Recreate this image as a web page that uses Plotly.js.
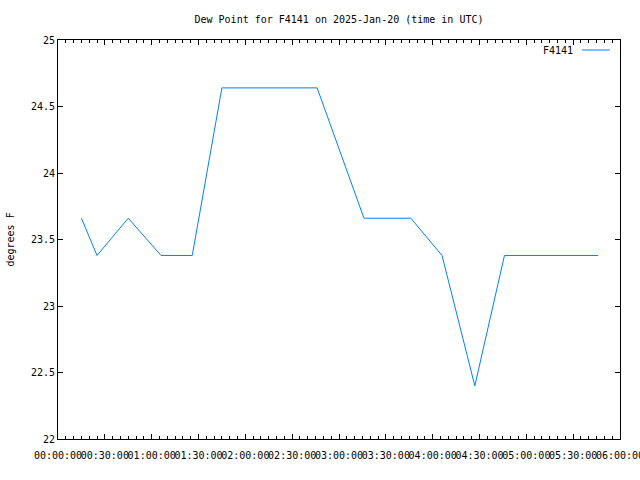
<!DOCTYPE html>
<html>
<head>
<meta charset="utf-8">
<script src="https://cdn.plot.ly/plotly-3.0.1.min.js"></script>
<style>html,body{margin:0;padding:0;background:#fff;}#chart{width:640px;height:480px;}</style>
</head>
<body>
<div id="chart"></div>
<script>
const stationName = "F4141";
const times = [
  "2025-01-20 00:15:00", "2025-01-20 00:25:00", "2025-01-20 00:45:00",
  "2025-01-20 01:06:00", "2025-01-20 01:26:00", "2025-01-20 01:45:00",
  "2025-01-20 02:46:00", "2025-01-20 03:16:00", "2025-01-20 03:46:00",
  "2025-01-20 04:06:00", "2025-01-20 04:27:00", "2025-01-20 04:46:00",
  "2025-01-20 05:46:00"
];
const dewPointF = [23.66, 23.38, 23.66, 23.38, 23.38, 24.64, 24.64, 23.66, 23.66, 23.38, 22.40, 23.38, 23.38];
const yTickVals = [22, 22.5, 23, 23.5, 24, 24.5, 25];
const yTickText = ["22", "22.5", "23", "23.5", "24", "24.5", "25"];

const mono = "DejaVu Sans Mono, monospace";
const L = 58, R = 620, T = 40, B = 439;

const trace = {
  x: times, y: dewPointF, type: "scatter", mode: "lines", name: stationName,
  line: {color: "#0080ff", width: 1}, showlegend: false
};

const layout = {
  width: 640, height: 480,
  margin: {l: L, r: 640 - R, t: T, b: 480 - B, pad: 0},
  paper_bgcolor: "#fff", plot_bgcolor: "#fff",
  font: {family: mono, size: 10, color: "#000"},
  title: {text: "Dew Point for F4141 on 2025-Jan-20 (time in UTC)", font: {family: mono, size: 10, color: "#000"},
          x: 0.5, xref: "paper", xanchor: "center", y: 1 - 19/480, yref: "container", yanchor: "middle"},
  xaxis: {
    type: "date", range: ["2025-01-20 00:00:00", "2025-01-20 06:00:00"],
    tickmode: "linear", tick0: "2025-01-20 00:00:00", dtick: 30*60*1000,
    tickformat: "%H:%M:%S", tickangle: 0, ticklabeloverflow: "allow",
    ticks: "inside", ticklen: 5, tickcolor: "#000", tickwidth: 1,
    minor: {dtick: 5*60*1000, ticks: "inside", ticklen: 3, tickcolor: "#000", tickwidth: 1, showgrid: false},
    showline: true, linecolor: "#000", linewidth: 1, mirror: "allticks",
    showgrid: false, zeroline: false, ticklabelstandoff: 7,
    tickfont: {family: mono, size: 10, color: "#000"}
  },
  yaxis: {
    range: [22, 25], tickmode: "array", tickvals: yTickVals, ticktext: yTickText,
    ticks: "inside", ticklen: 5, tickcolor: "#000", tickwidth: 1,
    showline: true, linecolor: "#000", linewidth: 1, mirror: "allticks",
    showgrid: false, zeroline: false,
    tickfont: {family: mono, size: 10, color: "#000"}
  },
  annotations: [
    {text: "degrees F", xref: "paper", yref: "paper", x: (10 - L)/(R - L), y: 0.5,
     xanchor: "center", yanchor: "middle", textangle: -90, showarrow: false,
     font: {family: mono, size: 10, color: "#000"}},
    {text: stationName, xref: "paper", yref: "paper", x: (575 - L)/(R - L), y: (B - 50)/(B - T),
     xanchor: "right", yanchor: "middle", showarrow: false,
     font: {family: mono, size: 10, color: "#000"}}
  ],
  shapes: [
    {type: "line", xref: "paper", yref: "paper", x0: (582 - L)/(R - L), x1: (610 - L)/(R - L),
     y0: (B - 50)/(B - T), y1: (B - 50)/(B - T), line: {color: "#0080ff", width: 1}}
  ],
  showlegend: false
};

Plotly.newPlot("chart", [trace], layout, {staticPlot: true, displayModeBar: false});
</script>
</body>
</html>
